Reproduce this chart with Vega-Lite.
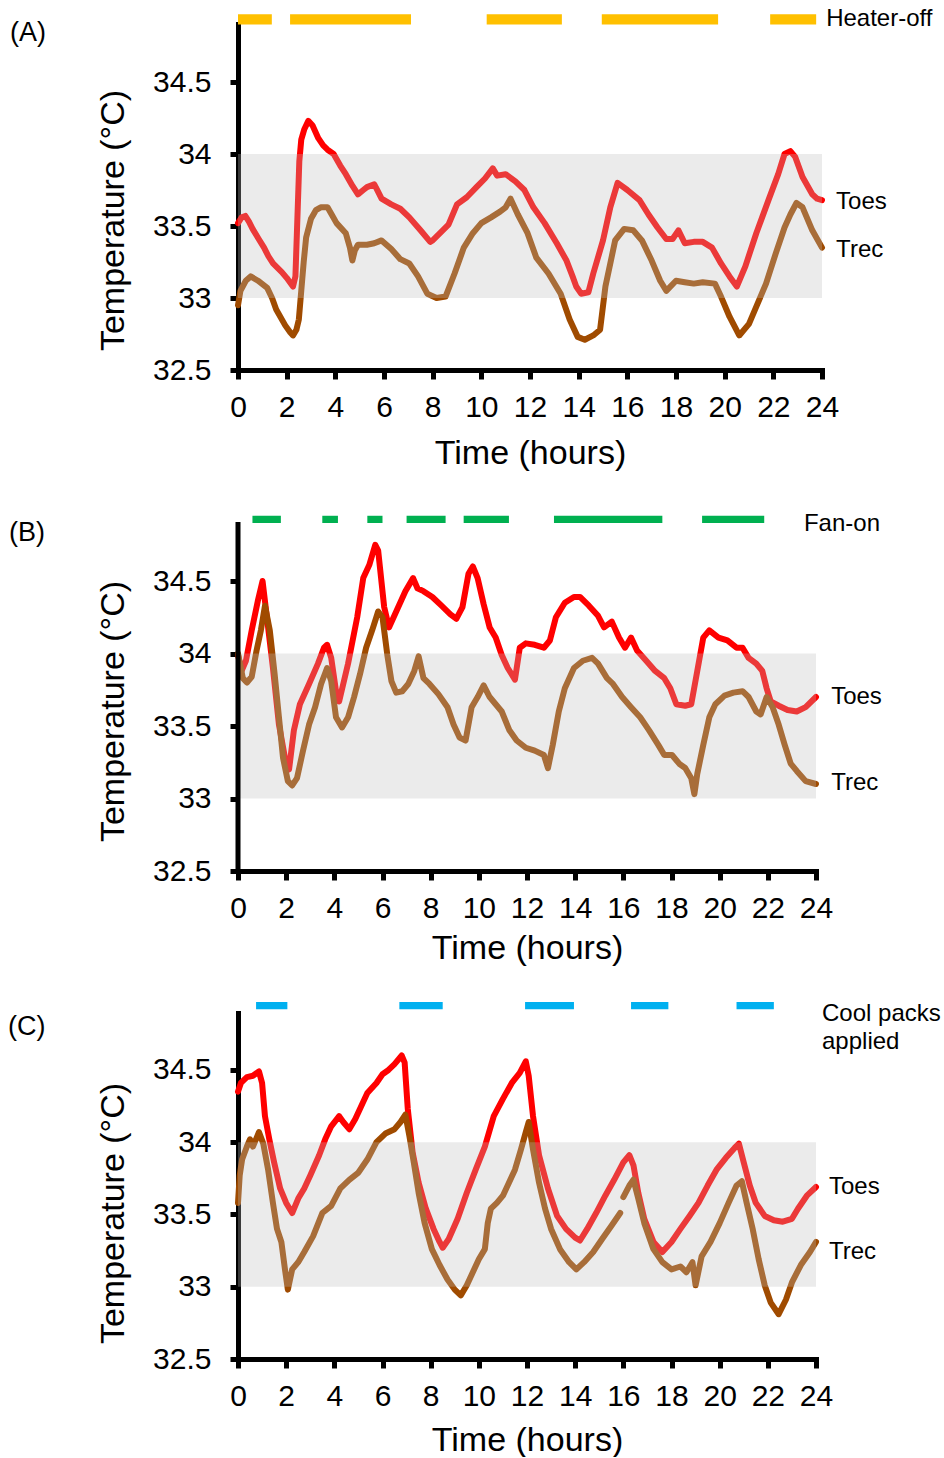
{
"$schema": "https://vega.github.io/schema/vega-lite/v6.json",
"padding": {"left": 8, "top": 6, "right": 0, "bottom": 0},
"bounds": "flush",
"spacing": 142,
"config": {
  "view": {"stroke": null},
  "font": "Liberation Sans",
  "axis": {"grid": false, "domainColor": "#000", "domainWidth": 5, "domainCap": "square", "tickColor": "#000", "tickWidth": 5, "tickCap": "butt", "labelColor": "#000", "labelFont": "Liberation Sans", "labelFontSize": 30, "titleColor": "#000", "titleFont": "Liberation Sans", "titleFontWeight": "normal", "titleFontSize": 34, "zindex": 1, "labelFlush": false, "labelOverlap": false},
  "text": {"font": "Liberation Sans", "color": "#000", "fontSize": 24, "align": "left", "baseline": "middle"}
},
"datasets": {
  "A": [
    {"h":0,"T":33.52,"s":"Toes"},{"h":0.15,"T":33.56,"s":"Toes"},{"h":0.3,"T":33.57,"s":"Toes"},{"h":0.45,"T":33.53,"s":"Toes"},{"h":0.6,"T":33.48,"s":"Toes"},{"h":0.85,"T":33.41,"s":"Toes"},{"h":1.07,"T":33.35,"s":"Toes"},{"h":1.25,"T":33.29,"s":"Toes"},{"h":1.44,"T":33.24,"s":"Toes"},{"h":1.8,"T":33.18,"s":"Toes"},{"h":2.0,"T":33.14,"s":"Toes"},{"h":2.26,"T":33.08,"s":"Toes"},{"h":2.36,"T":33.15,"s":"Toes"},{"h":2.45,"T":33.6,"s":"Toes"},{"h":2.52,"T":33.95,"s":"Toes"},{"h":2.6,"T":34.1,"s":"Toes"},{"h":2.72,"T":34.17,"s":"Toes"},{"h":2.89,"T":34.23,"s":"Toes"},{"h":3.06,"T":34.2,"s":"Toes"},{"h":3.3,"T":34.11,"s":"Toes"},{"h":3.5,"T":34.06,"s":"Toes"},{"h":3.68,"T":34.03,"s":"Toes"},{"h":3.93,"T":34.0,"s":"Toes"},{"h":4.2,"T":33.92,"s":"Toes"},{"h":4.43,"T":33.86,"s":"Toes"},{"h":4.7,"T":33.78,"s":"Toes"},{"h":4.93,"T":33.72,"s":"Toes"},{"h":5.15,"T":33.75,"s":"Toes"},{"h":5.3,"T":33.77,"s":"Toes"},{"h":5.6,"T":33.79,"s":"Toes"},{"h":5.75,"T":33.74,"s":"Toes"},{"h":5.9,"T":33.69,"s":"Toes"},{"h":6.3,"T":33.65,"s":"Toes"},{"h":6.67,"T":33.62,"s":"Toes"},{"h":7.04,"T":33.56,"s":"Toes"},{"h":7.5,"T":33.47,"s":"Toes"},{"h":7.9,"T":33.39,"s":"Toes"},{"h":8.0,"T":33.4,"s":"Toes"},{"h":8.3,"T":33.45,"s":"Toes"},{"h":8.65,"T":33.51,"s":"Toes"},{"h":9.0,"T":33.65,"s":"Toes"},{"h":9.4,"T":33.7,"s":"Toes"},{"h":9.8,"T":33.77,"s":"Toes"},{"h":10.15,"T":33.83,"s":"Toes"},{"h":10.47,"T":33.9,"s":"Toes"},{"h":10.65,"T":33.85,"s":"Toes"},{"h":11.0,"T":33.86,"s":"Toes"},{"h":11.4,"T":33.81,"s":"Toes"},{"h":11.77,"T":33.75,"s":"Toes"},{"h":12.14,"T":33.63,"s":"Toes"},{"h":12.6,"T":33.52,"s":"Toes"},{"h":13.1,"T":33.38,"s":"Toes"},{"h":13.5,"T":33.26,"s":"Toes"},{"h":13.75,"T":33.15,"s":"Toes"},{"h":13.9,"T":33.08,"s":"Toes"},{"h":14.1,"T":33.03,"s":"Toes"},{"h":14.4,"T":33.04,"s":"Toes"},{"h":14.6,"T":33.17,"s":"Toes"},{"h":15.0,"T":33.4,"s":"Toes"},{"h":15.3,"T":33.63,"s":"Toes"},{"h":15.6,"T":33.8,"s":"Toes"},{"h":16.0,"T":33.75,"s":"Toes"},{"h":16.5,"T":33.68,"s":"Toes"},{"h":16.87,"T":33.58,"s":"Toes"},{"h":17.24,"T":33.49,"s":"Toes"},{"h":17.6,"T":33.41,"s":"Toes"},{"h":17.86,"T":33.41,"s":"Toes"},{"h":18.1,"T":33.47,"s":"Toes"},{"h":18.36,"T":33.38,"s":"Toes"},{"h":18.73,"T":33.39,"s":"Toes"},{"h":19.1,"T":33.39,"s":"Toes"},{"h":19.48,"T":33.35,"s":"Toes"},{"h":19.85,"T":33.24,"s":"Toes"},{"h":20.2,"T":33.15,"s":"Toes"},{"h":20.5,"T":33.08,"s":"Toes"},{"h":20.85,"T":33.22,"s":"Toes"},{"h":21.3,"T":33.45,"s":"Toes"},{"h":21.8,"T":33.68,"s":"Toes"},{"h":22.2,"T":33.86,"s":"Toes"},{"h":22.46,"T":34.0,"s":"Toes"},{"h":22.7,"T":34.02,"s":"Toes"},{"h":22.9,"T":33.98,"s":"Toes"},{"h":23.2,"T":33.84,"s":"Toes"},{"h":23.6,"T":33.72,"s":"Toes"},{"h":23.8,"T":33.69,"s":"Toes"},{"h":24.0,"T":33.68,"s":"Toes"},
    {"h":0,"T":32.95,"s":"Trec"},{"h":0.1,"T":33.05,"s":"Trec"},{"h":0.32,"T":33.12,"s":"Trec"},{"h":0.52,"T":33.15,"s":"Trec"},{"h":0.82,"T":33.12,"s":"Trec"},{"h":1.2,"T":33.07,"s":"Trec"},{"h":1.4,"T":33.0,"s":"Trec"},{"h":1.57,"T":32.92,"s":"Trec"},{"h":1.94,"T":32.81,"s":"Trec"},{"h":2.15,"T":32.76,"s":"Trec"},{"h":2.26,"T":32.74,"s":"Trec"},{"h":2.4,"T":32.78,"s":"Trec"},{"h":2.5,"T":32.85,"s":"Trec"},{"h":2.6,"T":33.05,"s":"Trec"},{"h":2.7,"T":33.25,"s":"Trec"},{"h":2.8,"T":33.42,"s":"Trec"},{"h":3.0,"T":33.55,"s":"Trec"},{"h":3.2,"T":33.61,"s":"Trec"},{"h":3.4,"T":33.63,"s":"Trec"},{"h":3.68,"T":33.63,"s":"Trec"},{"h":3.85,"T":33.58,"s":"Trec"},{"h":4.05,"T":33.52,"s":"Trec"},{"h":4.43,"T":33.45,"s":"Trec"},{"h":4.6,"T":33.35,"s":"Trec"},{"h":4.7,"T":33.26,"s":"Trec"},{"h":4.8,"T":33.33,"s":"Trec"},{"h":4.93,"T":33.37,"s":"Trec"},{"h":5.3,"T":33.37,"s":"Trec"},{"h":5.6,"T":33.38,"s":"Trec"},{"h":5.9,"T":33.4,"s":"Trec"},{"h":6.3,"T":33.34,"s":"Trec"},{"h":6.67,"T":33.27,"s":"Trec"},{"h":7.04,"T":33.24,"s":"Trec"},{"h":7.4,"T":33.15,"s":"Trec"},{"h":7.78,"T":33.03,"s":"Trec"},{"h":8.16,"T":33.0,"s":"Trec"},{"h":8.53,"T":33.01,"s":"Trec"},{"h":8.9,"T":33.17,"s":"Trec"},{"h":9.28,"T":33.35,"s":"Trec"},{"h":9.65,"T":33.45,"s":"Trec"},{"h":10.0,"T":33.52,"s":"Trec"},{"h":10.4,"T":33.56,"s":"Trec"},{"h":10.77,"T":33.6,"s":"Trec"},{"h":11.0,"T":33.63,"s":"Trec"},{"h":11.2,"T":33.69,"s":"Trec"},{"h":11.5,"T":33.58,"s":"Trec"},{"h":11.9,"T":33.45,"s":"Trec"},{"h":12.26,"T":33.28,"s":"Trec"},{"h":12.76,"T":33.17,"s":"Trec"},{"h":13.26,"T":33.03,"s":"Trec"},{"h":13.63,"T":32.85,"s":"Trec"},{"h":13.96,"T":32.73,"s":"Trec"},{"h":14.25,"T":32.71,"s":"Trec"},{"h":14.6,"T":32.74,"s":"Trec"},{"h":14.88,"T":32.78,"s":"Trec"},{"h":15.1,"T":33.08,"s":"Trec"},{"h":15.5,"T":33.4,"s":"Trec"},{"h":15.87,"T":33.48,"s":"Trec"},{"h":16.24,"T":33.47,"s":"Trec"},{"h":16.6,"T":33.4,"s":"Trec"},{"h":17.0,"T":33.26,"s":"Trec"},{"h":17.35,"T":33.12,"s":"Trec"},{"h":17.6,"T":33.05,"s":"Trec"},{"h":18.0,"T":33.12,"s":"Trec"},{"h":18.36,"T":33.11,"s":"Trec"},{"h":18.73,"T":33.1,"s":"Trec"},{"h":19.1,"T":33.11,"s":"Trec"},{"h":19.6,"T":33.1,"s":"Trec"},{"h":19.85,"T":33.01,"s":"Trec"},{"h":20.2,"T":32.87,"s":"Trec"},{"h":20.6,"T":32.74,"s":"Trec"},{"h":21.0,"T":32.82,"s":"Trec"},{"h":21.3,"T":32.94,"s":"Trec"},{"h":21.7,"T":33.1,"s":"Trec"},{"h":22.1,"T":33.31,"s":"Trec"},{"h":22.46,"T":33.49,"s":"Trec"},{"h":22.7,"T":33.58,"s":"Trec"},{"h":22.95,"T":33.66,"s":"Trec"},{"h":23.2,"T":33.63,"s":"Trec"},{"h":23.6,"T":33.47,"s":"Trec"},{"h":24.0,"T":33.35,"s":"Trec"}
  ],
  "B": [
    {"h":0,"T":33.99,"s":"Toes"},{"h":0.15,"T":33.88,"s":"Toes"},{"h":0.33,"T":33.95,"s":"Toes"},{"h":0.57,"T":34.16,"s":"Toes"},{"h":0.82,"T":34.36,"s":"Toes"},{"h":1.02,"T":34.5,"s":"Toes"},{"h":1.2,"T":34.25,"s":"Toes"},{"h":1.45,"T":33.9,"s":"Toes"},{"h":1.7,"T":33.51,"s":"Toes"},{"h":1.95,"T":33.28,"s":"Toes"},{"h":2.12,"T":33.2,"s":"Toes"},{"h":2.32,"T":33.47,"s":"Toes"},{"h":2.57,"T":33.65,"s":"Toes"},{"h":2.95,"T":33.79,"s":"Toes"},{"h":3.32,"T":33.93,"s":"Toes"},{"h":3.57,"T":34.04,"s":"Toes"},{"h":3.7,"T":34.06,"s":"Toes"},{"h":3.87,"T":33.97,"s":"Toes"},{"h":4.07,"T":33.74,"s":"Toes"},{"h":4.2,"T":33.67,"s":"Toes"},{"h":4.57,"T":33.93,"s":"Toes"},{"h":4.95,"T":34.25,"s":"Toes"},{"h":5.2,"T":34.52,"s":"Toes"},{"h":5.45,"T":34.61,"s":"Toes"},{"h":5.7,"T":34.75,"s":"Toes"},{"h":5.82,"T":34.71,"s":"Toes"},{"h":6.07,"T":34.32,"s":"Toes"},{"h":6.27,"T":34.18,"s":"Toes"},{"h":6.57,"T":34.29,"s":"Toes"},{"h":6.95,"T":34.43,"s":"Toes"},{"h":7.27,"T":34.52,"s":"Toes"},{"h":7.45,"T":34.45,"s":"Toes"},{"h":7.7,"T":34.43,"s":"Toes"},{"h":8.07,"T":34.39,"s":"Toes"},{"h":8.45,"T":34.33,"s":"Toes"},{"h":8.82,"T":34.27,"s":"Toes"},{"h":9.07,"T":34.24,"s":"Toes"},{"h":9.32,"T":34.32,"s":"Toes"},{"h":9.57,"T":34.55,"s":"Toes"},{"h":9.75,"T":34.6,"s":"Toes"},{"h":9.95,"T":34.52,"s":"Toes"},{"h":10.2,"T":34.34,"s":"Toes"},{"h":10.45,"T":34.18,"s":"Toes"},{"h":10.7,"T":34.11,"s":"Toes"},{"h":10.95,"T":33.99,"s":"Toes"},{"h":11.2,"T":33.9,"s":"Toes"},{"h":11.5,"T":33.82,"s":"Toes"},{"h":11.7,"T":34.04,"s":"Toes"},{"h":11.95,"T":34.07,"s":"Toes"},{"h":12.32,"T":34.06,"s":"Toes"},{"h":12.7,"T":34.04,"s":"Toes"},{"h":12.95,"T":34.09,"s":"Toes"},{"h":13.2,"T":34.25,"s":"Toes"},{"h":13.57,"T":34.35,"s":"Toes"},{"h":13.95,"T":34.39,"s":"Toes"},{"h":14.2,"T":34.39,"s":"Toes"},{"h":14.57,"T":34.33,"s":"Toes"},{"h":14.95,"T":34.26,"s":"Toes"},{"h":15.2,"T":34.18,"s":"Toes"},{"h":15.52,"T":34.22,"s":"Toes"},{"h":15.82,"T":34.11,"s":"Toes"},{"h":16.07,"T":34.04,"s":"Toes"},{"h":16.32,"T":34.11,"s":"Toes"},{"h":16.57,"T":34.02,"s":"Toes"},{"h":16.95,"T":33.95,"s":"Toes"},{"h":17.32,"T":33.88,"s":"Toes"},{"h":17.7,"T":33.83,"s":"Toes"},{"h":17.95,"T":33.76,"s":"Toes"},{"h":18.2,"T":33.65,"s":"Toes"},{"h":18.57,"T":33.64,"s":"Toes"},{"h":18.82,"T":33.65,"s":"Toes"},{"h":19.07,"T":33.88,"s":"Toes"},{"h":19.32,"T":34.11,"s":"Toes"},{"h":19.57,"T":34.16,"s":"Toes"},{"h":19.95,"T":34.11,"s":"Toes"},{"h":20.32,"T":34.09,"s":"Toes"},{"h":20.7,"T":34.04,"s":"Toes"},{"h":20.95,"T":34.04,"s":"Toes"},{"h":21.2,"T":33.97,"s":"Toes"},{"h":21.52,"T":33.93,"s":"Toes"},{"h":21.77,"T":33.88,"s":"Toes"},{"h":21.95,"T":33.76,"s":"Toes"},{"h":22.12,"T":33.67,"s":"Toes"},{"h":22.45,"T":33.64,"s":"Toes"},{"h":22.82,"T":33.61,"s":"Toes"},{"h":23.2,"T":33.6,"s":"Toes"},{"h":23.57,"T":33.63,"s":"Toes"},{"h":24,"T":33.7,"s":"Toes"},
    {"h":0,"T":34.0,"s":"Trec"},{"h":0.2,"T":33.83,"s":"Trec"},{"h":0.37,"T":33.8,"s":"Trec"},{"h":0.57,"T":33.84,"s":"Trec"},{"h":0.77,"T":34.02,"s":"Trec"},{"h":0.95,"T":34.16,"s":"Trec"},{"h":1.12,"T":34.33,"s":"Trec"},{"h":1.32,"T":34.16,"s":"Trec"},{"h":1.52,"T":33.86,"s":"Trec"},{"h":1.7,"T":33.56,"s":"Trec"},{"h":1.87,"T":33.28,"s":"Trec"},{"h":2.07,"T":33.12,"s":"Trec"},{"h":2.25,"T":33.09,"s":"Trec"},{"h":2.45,"T":33.14,"s":"Trec"},{"h":2.7,"T":33.33,"s":"Trec"},{"h":2.95,"T":33.51,"s":"Trec"},{"h":3.2,"T":33.63,"s":"Trec"},{"h":3.45,"T":33.79,"s":"Trec"},{"h":3.7,"T":33.9,"s":"Trec"},{"h":3.87,"T":33.81,"s":"Trec"},{"h":4.07,"T":33.56,"s":"Trec"},{"h":4.32,"T":33.49,"s":"Trec"},{"h":4.57,"T":33.56,"s":"Trec"},{"h":4.82,"T":33.7,"s":"Trec"},{"h":5.07,"T":33.86,"s":"Trec"},{"h":5.32,"T":34.04,"s":"Trec"},{"h":5.57,"T":34.16,"s":"Trec"},{"h":5.82,"T":34.29,"s":"Trec"},{"h":6.0,"T":34.25,"s":"Trec"},{"h":6.2,"T":33.99,"s":"Trec"},{"h":6.37,"T":33.81,"s":"Trec"},{"h":6.57,"T":33.73,"s":"Trec"},{"h":6.82,"T":33.74,"s":"Trec"},{"h":7.07,"T":33.79,"s":"Trec"},{"h":7.32,"T":33.88,"s":"Trec"},{"h":7.5,"T":33.98,"s":"Trec"},{"h":7.7,"T":33.83,"s":"Trec"},{"h":7.95,"T":33.79,"s":"Trec"},{"h":8.32,"T":33.72,"s":"Trec"},{"h":8.7,"T":33.63,"s":"Trec"},{"h":8.95,"T":33.51,"s":"Trec"},{"h":9.2,"T":33.42,"s":"Trec"},{"h":9.45,"T":33.4,"s":"Trec"},{"h":9.7,"T":33.63,"s":"Trec"},{"h":9.95,"T":33.7,"s":"Trec"},{"h":10.2,"T":33.78,"s":"Trec"},{"h":10.45,"T":33.7,"s":"Trec"},{"h":10.7,"T":33.65,"s":"Trec"},{"h":10.95,"T":33.6,"s":"Trec"},{"h":11.27,"T":33.47,"s":"Trec"},{"h":11.57,"T":33.4,"s":"Trec"},{"h":11.95,"T":33.35,"s":"Trec"},{"h":12.32,"T":33.33,"s":"Trec"},{"h":12.7,"T":33.3,"s":"Trec"},{"h":12.87,"T":33.21,"s":"Trec"},{"h":13.07,"T":33.37,"s":"Trec"},{"h":13.32,"T":33.6,"s":"Trec"},{"h":13.57,"T":33.76,"s":"Trec"},{"h":13.95,"T":33.9,"s":"Trec"},{"h":14.32,"T":33.95,"s":"Trec"},{"h":14.7,"T":33.97,"s":"Trec"},{"h":14.95,"T":33.93,"s":"Trec"},{"h":15.32,"T":33.83,"s":"Trec"},{"h":15.57,"T":33.79,"s":"Trec"},{"h":15.95,"T":33.7,"s":"Trec"},{"h":16.32,"T":33.63,"s":"Trec"},{"h":16.7,"T":33.56,"s":"Trec"},{"h":17.07,"T":33.47,"s":"Trec"},{"h":17.45,"T":33.37,"s":"Trec"},{"h":17.7,"T":33.3,"s":"Trec"},{"h":18.02,"T":33.3,"s":"Trec"},{"h":18.32,"T":33.24,"s":"Trec"},{"h":18.57,"T":33.21,"s":"Trec"},{"h":18.82,"T":33.14,"s":"Trec"},{"h":18.95,"T":33.03,"s":"Trec"},{"h":19.07,"T":33.17,"s":"Trec"},{"h":19.32,"T":33.37,"s":"Trec"},{"h":19.57,"T":33.56,"s":"Trec"},{"h":19.82,"T":33.65,"s":"Trec"},{"h":20.2,"T":33.71,"s":"Trec"},{"h":20.57,"T":33.73,"s":"Trec"},{"h":20.95,"T":33.74,"s":"Trec"},{"h":21.2,"T":33.7,"s":"Trec"},{"h":21.52,"T":33.6,"s":"Trec"},{"h":21.7,"T":33.58,"s":"Trec"},{"h":21.95,"T":33.7,"s":"Trec"},{"h":22.2,"T":33.63,"s":"Trec"},{"h":22.45,"T":33.51,"s":"Trec"},{"h":22.7,"T":33.37,"s":"Trec"},{"h":22.95,"T":33.24,"s":"Trec"},{"h":23.2,"T":33.19,"s":"Trec"},{"h":23.57,"T":33.12,"s":"Trec"},{"h":24,"T":33.1,"s":"Trec"}
  ],
  "C": [
    {"h":0,"T":34.35,"s":"Toes"},{"h":0.12,"T":34.41,"s":"Toes"},{"h":0.37,"T":34.45,"s":"Toes"},{"h":0.62,"T":34.46,"s":"Toes"},{"h":0.87,"T":34.49,"s":"Toes"},{"h":1.0,"T":34.41,"s":"Toes"},{"h":1.12,"T":34.18,"s":"Toes"},{"h":1.3,"T":34.02,"s":"Toes"},{"h":1.5,"T":33.86,"s":"Toes"},{"h":1.75,"T":33.68,"s":"Toes"},{"h":2.0,"T":33.58,"s":"Toes"},{"h":2.25,"T":33.51,"s":"Toes"},{"h":2.5,"T":33.61,"s":"Toes"},{"h":2.75,"T":33.68,"s":"Toes"},{"h":3.0,"T":33.77,"s":"Toes"},{"h":3.37,"T":33.91,"s":"Toes"},{"h":3.62,"T":34.02,"s":"Toes"},{"h":3.87,"T":34.11,"s":"Toes"},{"h":4.2,"T":34.18,"s":"Toes"},{"h":4.37,"T":34.14,"s":"Toes"},{"h":4.62,"T":34.09,"s":"Toes"},{"h":4.87,"T":34.16,"s":"Toes"},{"h":5.12,"T":34.25,"s":"Toes"},{"h":5.37,"T":34.34,"s":"Toes"},{"h":5.75,"T":34.41,"s":"Toes"},{"h":6.0,"T":34.47,"s":"Toes"},{"h":6.25,"T":34.5,"s":"Toes"},{"h":6.5,"T":34.54,"s":"Toes"},{"h":6.8,"T":34.6,"s":"Toes"},{"h":6.92,"T":34.55,"s":"Toes"},{"h":7.05,"T":34.23,"s":"Toes"},{"h":7.25,"T":33.93,"s":"Toes"},{"h":7.5,"T":33.72,"s":"Toes"},{"h":7.8,"T":33.54,"s":"Toes"},{"h":8.12,"T":33.4,"s":"Toes"},{"h":8.37,"T":33.31,"s":"Toes"},{"h":8.5,"T":33.27,"s":"Toes"},{"h":8.75,"T":33.33,"s":"Toes"},{"h":9.12,"T":33.47,"s":"Toes"},{"h":9.5,"T":33.65,"s":"Toes"},{"h":9.87,"T":33.81,"s":"Toes"},{"h":10.25,"T":33.97,"s":"Toes"},{"h":10.62,"T":34.18,"s":"Toes"},{"h":11.0,"T":34.3,"s":"Toes"},{"h":11.37,"T":34.41,"s":"Toes"},{"h":11.7,"T":34.48,"s":"Toes"},{"h":11.95,"T":34.56,"s":"Toes"},{"h":12.07,"T":34.46,"s":"Toes"},{"h":12.25,"T":34.18,"s":"Toes"},{"h":12.5,"T":33.91,"s":"Toes"},{"h":12.87,"T":33.68,"s":"Toes"},{"h":13.25,"T":33.49,"s":"Toes"},{"h":13.62,"T":33.4,"s":"Toes"},{"h":14.0,"T":33.34,"s":"Toes"},{"h":14.2,"T":33.32,"s":"Toes"},{"h":14.5,"T":33.4,"s":"Toes"},{"h":14.87,"T":33.51,"s":"Toes"},{"h":15.25,"T":33.63,"s":"Toes"},{"h":15.62,"T":33.74,"s":"Toes"},{"h":16.0,"T":33.86,"s":"Toes"},{"h":16.25,"T":33.91,"s":"Toes"},{"h":16.42,"T":33.84,"s":"Toes"},{"h":16.62,"T":33.65,"s":"Toes"},{"h":16.87,"T":33.47,"s":"Toes"},{"h":17.25,"T":33.31,"s":"Toes"},{"h":17.62,"T":33.24,"s":"Toes"},{"h":18.0,"T":33.31,"s":"Toes"},{"h":18.37,"T":33.4,"s":"Toes"},{"h":18.75,"T":33.49,"s":"Toes"},{"h":19.12,"T":33.58,"s":"Toes"},{"h":19.5,"T":33.7,"s":"Toes"},{"h":19.87,"T":33.81,"s":"Toes"},{"h":20.25,"T":33.89,"s":"Toes"},{"h":20.62,"T":33.96,"s":"Toes"},{"h":20.8,"T":33.99,"s":"Toes"},{"h":21.0,"T":33.86,"s":"Toes"},{"h":21.25,"T":33.7,"s":"Toes"},{"h":21.5,"T":33.58,"s":"Toes"},{"h":21.87,"T":33.49,"s":"Toes"},{"h":22.25,"T":33.46,"s":"Toes"},{"h":22.62,"T":33.45,"s":"Toes"},{"h":23.0,"T":33.47,"s":"Toes"},{"h":23.25,"T":33.54,"s":"Toes"},{"h":23.62,"T":33.63,"s":"Toes"},{"h":24,"T":33.69,"s":"Toes"},
    {"h":0,"T":33.58,"s":"Trec","g":1},{"h":0.07,"T":33.77,"s":"Trec","g":1},{"h":0.17,"T":33.88,"s":"Trec","g":1},{"h":0.37,"T":33.97,"s":"Trec","g":1},{"h":0.5,"T":34.02,"s":"Trec","g":1},{"h":0.62,"T":33.97,"s":"Trec","g":1},{"h":0.87,"T":34.07,"s":"Trec","g":1},{"h":1.05,"T":33.99,"s":"Trec","g":1},{"h":1.25,"T":33.81,"s":"Trec","g":1},{"h":1.45,"T":33.58,"s":"Trec","g":1},{"h":1.62,"T":33.4,"s":"Trec","g":1},{"h":1.8,"T":33.31,"s":"Trec","g":1},{"h":1.95,"T":33.12,"s":"Trec","g":1},{"h":2.07,"T":32.98,"s":"Trec","g":1},{"h":2.25,"T":33.12,"s":"Trec","g":1},{"h":2.5,"T":33.17,"s":"Trec","g":1},{"h":2.75,"T":33.24,"s":"Trec","g":1},{"h":3.12,"T":33.35,"s":"Trec","g":1},{"h":3.5,"T":33.51,"s":"Trec","g":1},{"h":3.87,"T":33.56,"s":"Trec","g":1},{"h":4.25,"T":33.68,"s":"Trec","g":1},{"h":4.62,"T":33.74,"s":"Trec","g":1},{"h":5.0,"T":33.79,"s":"Trec","g":1},{"h":5.37,"T":33.88,"s":"Trec","g":1},{"h":5.75,"T":34.0,"s":"Trec","g":1},{"h":6.12,"T":34.06,"s":"Trec","g":1},{"h":6.5,"T":34.09,"s":"Trec","g":1},{"h":6.75,"T":34.14,"s":"Trec","g":1},{"h":6.95,"T":34.19,"s":"Trec","g":1},{"h":7.12,"T":34.04,"s":"Trec","g":1},{"h":7.3,"T":33.86,"s":"Trec","g":1},{"h":7.5,"T":33.65,"s":"Trec","g":1},{"h":7.75,"T":33.44,"s":"Trec","g":1},{"h":8.05,"T":33.26,"s":"Trec","g":1},{"h":8.37,"T":33.15,"s":"Trec","g":1},{"h":8.7,"T":33.05,"s":"Trec","g":1},{"h":9.0,"T":32.98,"s":"Trec","g":1},{"h":9.25,"T":32.94,"s":"Trec","g":1},{"h":9.5,"T":33.01,"s":"Trec","g":1},{"h":9.75,"T":33.1,"s":"Trec","g":1},{"h":10.0,"T":33.19,"s":"Trec","g":1},{"h":10.25,"T":33.26,"s":"Trec","g":1},{"h":10.37,"T":33.44,"s":"Trec","g":1},{"h":10.5,"T":33.54,"s":"Trec","g":1},{"h":10.75,"T":33.58,"s":"Trec","g":1},{"h":11.0,"T":33.63,"s":"Trec","g":1},{"h":11.25,"T":33.72,"s":"Trec","g":1},{"h":11.5,"T":33.81,"s":"Trec","g":1},{"h":11.75,"T":33.95,"s":"Trec","g":1},{"h":11.95,"T":34.07,"s":"Trec","g":1},{"h":12.07,"T":34.14,"s":"Trec","g":1},{"h":12.25,"T":33.95,"s":"Trec","g":1},{"h":12.5,"T":33.72,"s":"Trec","g":1},{"h":12.75,"T":33.54,"s":"Trec","g":1},{"h":13.0,"T":33.4,"s":"Trec","g":1},{"h":13.37,"T":33.26,"s":"Trec","g":1},{"h":13.75,"T":33.17,"s":"Trec","g":1},{"h":14.05,"T":33.12,"s":"Trec","g":1},{"h":14.37,"T":33.17,"s":"Trec","g":1},{"h":14.75,"T":33.24,"s":"Trec","g":1},{"h":15.12,"T":33.33,"s":"Trec","g":1},{"h":15.5,"T":33.42,"s":"Trec","g":1},{"h":15.87,"T":33.51,"s":"Trec","g":1},
    {"h":16.0,"T":33.62,"s":"Trec","g":2},{"h":16.25,"T":33.7,"s":"Trec","g":2},{"h":16.42,"T":33.74,"s":"Trec","g":2},{"h":16.62,"T":33.61,"s":"Trec","g":2},{"h":16.87,"T":33.44,"s":"Trec","g":2},{"h":17.25,"T":33.26,"s":"Trec","g":2},{"h":17.62,"T":33.17,"s":"Trec","g":2},{"h":18.0,"T":33.12,"s":"Trec","g":2},{"h":18.37,"T":33.14,"s":"Trec","g":2},{"h":18.62,"T":33.1,"s":"Trec","g":2},{"h":18.87,"T":33.17,"s":"Trec","g":2},{"h":19.0,"T":33.01,"s":"Trec","g":2},{"h":19.25,"T":33.21,"s":"Trec","g":2},{"h":19.62,"T":33.31,"s":"Trec","g":2},{"h":20.0,"T":33.44,"s":"Trec","g":2},{"h":20.37,"T":33.58,"s":"Trec","g":2},{"h":20.7,"T":33.7,"s":"Trec","g":2},{"h":20.92,"T":33.73,"s":"Trec","g":2},{"h":21.12,"T":33.58,"s":"Trec","g":2},{"h":21.37,"T":33.4,"s":"Trec","g":2},{"h":21.62,"T":33.19,"s":"Trec","g":2},{"h":21.87,"T":33.01,"s":"Trec","g":2},{"h":22.12,"T":32.89,"s":"Trec","g":2},{"h":22.45,"T":32.81,"s":"Trec","g":2},{"h":22.75,"T":32.91,"s":"Trec","g":2},{"h":23.0,"T":33.03,"s":"Trec","g":2},{"h":23.37,"T":33.15,"s":"Trec","g":2},{"h":23.75,"T":33.24,"s":"Trec","g":2},{"h":24,"T":33.31,"s":"Trec","g":2}
  ]
},
"vconcat": [
  {
    "width": 584, "height": 346,
    "layer": [
      {"data": {"name": "A"},
       "mark": {"type": "line", "strokeWidth": 6, "strokeCap": "round", "strokeJoin": "round"},
       "encoding": {
         "x": {"field": "h", "type": "quantitative", "scale": {"domain": [0, 24], "nice": false, "zero": false},
               "axis": {"title": "Time (hours)", "values": [0,2,4,6,8,10,12,14,16,18,20,22,24], "tickSize": 9, "labelPadding": 13, "titlePadding": 14}},
         "y": {"field": "T", "type": "quantitative", "scale": {"domain": [32.5, 34.903], "nice": false, "zero": false},
               "axis": {"title": "Temperature (°C)", "values": [32.5,33,33.5,34,34.5], "labelExpr": "'' + datum.value", "tickSize": 8, "labelPadding": 19, "titlePadding": 22, "titleY": 196}},
         "color": {"field": "s", "type": "nominal", "scale": {"domain": ["Toes", "Trec"], "range": ["#FF0000", "#A04B00"]}, "legend": null},
         "detail": {"field": "g"}
       }},
      {"data": {"values": [{"lo": 33, "hi": 34}]},
       "mark": {"type": "rect", "color": "#BDBDBD", "opacity": 0.3},
       "encoding": {"x": {"datum": 0, "type": "quantitative"}, "x2": {"datum": 24}, "y": {"field": "lo", "type": "quantitative"}, "y2": {"field": "hi"}}},
      {"data": {"values": [{"a": 0, "b": 1.39}, {"a": 2.14, "b": 7.11}, {"a": 10.22, "b": 13.31}, {"a": 14.95, "b": 19.73}, {"a": 21.87, "b": 23.76}]},
       "mark": {"type": "rect", "color": "#FFC000"},
       "encoding": {"x": {"field": "a", "type": "quantitative"}, "x2": {"field": "b"}, "y": {"datum": 34.9, "type": "quantitative"}, "y2": {"datum": 34.97}}},
      {"data": {"values": [{"h": 24.17, "T": 34.94, "t": "Heater-off"}, {"h": 24.58, "T": 33.67, "t": "Toes"}, {"h": 24.58, "T": 33.33, "t": "Trec"}]},
       "mark": {"type": "text"},
       "encoding": {"x": {"field": "h", "type": "quantitative"}, "y": {"field": "T", "type": "quantitative"}, "text": {"field": "t"}}},
      {"data": {"values": [{"h": -9.37, "T": 34.84, "t": "(A)"}]},
       "mark": {"type": "text", "fontSize": 27},
       "encoding": {"x": {"field": "h", "type": "quantitative"}, "y": {"field": "T", "type": "quantitative"}, "text": {"field": "t"}}}
    ]
  },
  {
    "width": 578, "height": 359,
    "layer": [
      {"data": {"name": "B"},
       "mark": {"type": "line", "strokeWidth": 6, "strokeCap": "round", "strokeJoin": "round"},
       "encoding": {
         "x": {"field": "h", "type": "quantitative", "scale": {"domain": [0, 24], "nice": false, "zero": false},
               "axis": {"title": "Time (hours)", "values": [0,2,4,6,8,10,12,14,16,18,20,22,24], "tickSize": 9, "labelPadding": 13, "titlePadding": 8}},
         "y": {"field": "T", "type": "quantitative", "scale": {"domain": [32.5, 34.976], "nice": false, "zero": false},
               "axis": {"title": "Temperature (°C)", "domain": false, "values": [32.5,33,33.5,34,34.5], "labelExpr": "'' + datum.value", "tickSize": 8, "labelPadding": 19, "titlePadding": 22, "titleY": 199}},
         "color": {"field": "s", "type": "nominal", "scale": {"domain": ["Toes", "Trec"], "range": ["#FF0000", "#A04B00"]}, "legend": null}
       }},
      {"data": {"values": [{"lo": 33, "hi": 34}]},
       "mark": {"type": "rect", "color": "#BDBDBD", "opacity": 0.3},
       "encoding": {"x": {"datum": 0, "type": "quantitative"}, "x2": {"datum": 24}, "y": {"field": "lo", "type": "quantitative"}, "y2": {"field": "hi"}}},
      {"data": {"values": [{"lo": 32.5, "hi": 34.89}]},
       "mark": {"type": "rule", "color": "#000", "strokeWidth": 5, "strokeCap": "square"},
       "encoding": {"x": {"datum": 0, "type": "quantitative"}, "y": {"field": "lo", "type": "quantitative"}, "y2": {"field": "hi"}}},
      {"data": {"values": [{"a": 0.6, "b": 1.78}, {"a": 3.5, "b": 4.15}, {"a": 5.37, "b": 6.0}, {"a": 7.0, "b": 8.62}, {"a": 9.37, "b": 11.25}, {"a": 13.12, "b": 17.62}, {"a": 19.27, "b": 21.85}]},
       "mark": {"type": "rect", "color": "#00B050"},
       "encoding": {"x": {"field": "a", "type": "quantitative"}, "x2": {"field": "b"}, "y": {"datum": 34.9, "type": "quantitative"}, "y2": {"datum": 34.95}}},
      {"data": {"values": [{"h": 23.5, "T": 34.89, "t": "Fan-on"}, {"h": 24.63, "T": 33.7, "t": "Toes"}, {"h": 24.63, "T": 33.11, "t": "Trec"}]},
       "mark": {"type": "text"},
       "encoding": {"x": {"field": "h", "type": "quantitative"}, "y": {"field": "T", "type": "quantitative"}, "text": {"field": "t"}}},
      {"data": {"values": [{"h": -9.51, "T": 34.83, "t": "(B)"}]},
       "mark": {"type": "text", "fontSize": 27},
       "encoding": {"x": {"field": "h", "type": "quantitative"}, "y": {"field": "T", "type": "quantitative"}, "text": {"field": "t"}}}
    ]
  },
  {
    "width": 578, "height": 346,
    "layer": [
      {"data": {"name": "C"},
       "mark": {"type": "line", "strokeWidth": 6, "strokeCap": "round", "strokeJoin": "round"},
       "encoding": {
         "x": {"field": "h", "type": "quantitative", "scale": {"domain": [0, 24], "nice": false, "zero": false},
               "axis": {"title": "Time (hours)", "values": [0,2,4,6,8,10,12,14,16,18,20,22,24], "tickSize": 9, "labelPadding": 13, "titlePadding": 12}},
         "y": {"field": "T", "type": "quantitative", "scale": {"domain": [32.5, 34.894], "nice": false, "zero": false},
               "axis": {"title": "Temperature (°C)", "values": [32.5,33,33.5,34,34.5], "labelExpr": "'' + datum.value", "tickSize": 8, "labelPadding": 19, "titlePadding": 22, "titleY": 200}},
         "color": {"field": "s", "type": "nominal", "scale": {"domain": ["Toes", "Trec"], "range": ["#FF0000", "#A04B00"]}, "legend": null},
         "detail": {"field": "g"}
       }},
      {"data": {"values": [{"lo": 33, "hi": 34}]},
       "mark": {"type": "rect", "color": "#BDBDBD", "opacity": 0.3},
       "encoding": {"x": {"datum": 0, "type": "quantitative"}, "x2": {"datum": 24}, "y": {"field": "lo", "type": "quantitative"}, "y2": {"field": "hi"}}},
      {"data": {"values": [{"a": 0.75, "b": 2.05}, {"a": 6.7, "b": 8.5}, {"a": 11.92, "b": 13.95}, {"a": 16.32, "b": 17.87}, {"a": 20.7, "b": 22.25}]},
       "mark": {"type": "rect", "color": "#00B0F0"},
       "encoding": {"x": {"field": "a", "type": "quantitative"}, "x2": {"field": "b"}, "y": {"datum": 34.92, "type": "quantitative"}, "y2": {"datum": 34.97}}},
      {"data": {"values": [{"h": 24.25, "T": 34.89, "t": "Cool packs"}, {"h": 24.25, "T": 34.69, "t": "applied"}, {"h": 24.54, "T": 33.69, "t": "Toes"}, {"h": 24.54, "T": 33.24, "t": "Trec"}]},
       "mark": {"type": "text"},
       "encoding": {"x": {"field": "h", "type": "quantitative"}, "y": {"field": "T", "type": "quantitative"}, "text": {"field": "t"}}},
      {"data": {"values": [{"h": -9.55, "T": 34.8, "t": "(C)"}]},
       "mark": {"type": "text", "fontSize": 27},
       "encoding": {"x": {"field": "h", "type": "quantitative"}, "y": {"field": "T", "type": "quantitative"}, "text": {"field": "t"}}}
    ]
  }
]
}
